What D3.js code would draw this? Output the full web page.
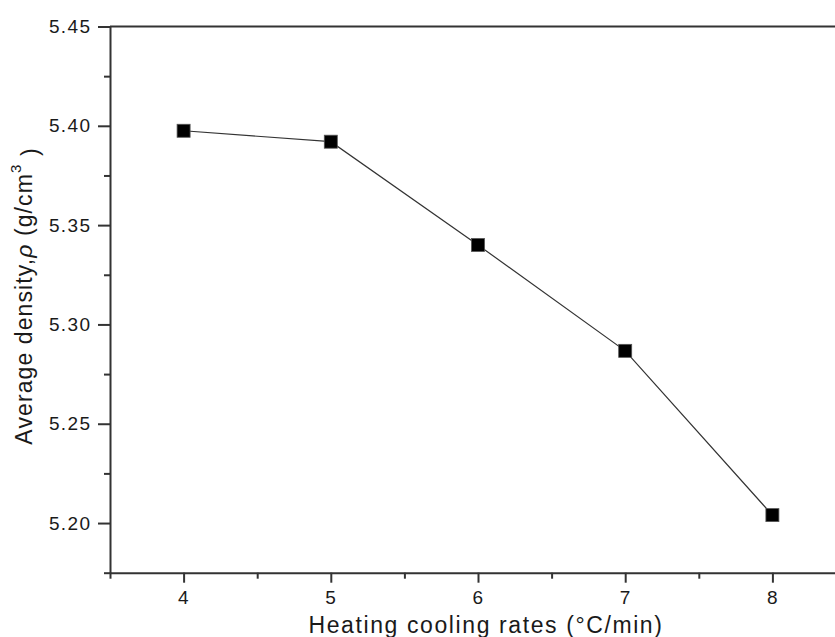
<!DOCTYPE html>
<html>
<head>
<meta charset="utf-8">
<script src="https://cdn.jsdelivr.net/npm/d3@7"></script>
<style>
  body { margin: 0; background: #fff; }
  text { font-family: "Liberation Sans", Arial, sans-serif; fill: #1a1a1a; }
</style>
</head>
<body>
<div id="chart"></div>
<script>
// data
var rates = [4, 5, 6, 7, 8];
var densities = [5.3975, 5.392, 5.340, 5.2867, 5.204];

var x_ticks = [4, 5, 6, 7, 8];
var y_ticks = [5.20, 5.25, 5.30, 5.35, 5.40, 5.45];

var svg_width = 835;
var svg_height = 637;

// plot box (right side runs past the picture edge, as in the original)
var plot_left = 110, plot_right = 846, plot_top = 26.5, plot_bottom = 572.7;

var svg = d3.select("#chart")
    .append("svg")
    .attr("width", svg_width)
    .attr("height", svg_height);

var x_scale = d3.scaleLinear().domain([3.5, 8.5]).range([plot_left, plot_right]);
var y_scale = d3.scaleLinear().domain([5.175, 5.45]).range([plot_bottom, plot_top]);

// frame: top and right lines
svg.append("line")
    .attr("x1", plot_left).attr("x2", plot_right)
    .attr("y1", plot_top).attr("y2", plot_top)
    .attr("stroke", "#333").attr("stroke-width", 2);
svg.append("line")
    .attr("x1", plot_right).attr("x2", plot_right)
    .attr("y1", plot_top).attr("y2", plot_bottom)
    .attr("stroke", "#333").attr("stroke-width", 2);

// minor ticks
var x_minor = [3.5, 4.5, 5.5, 6.5, 7.5, 8.5];
var y_minor = [5.175, 5.225, 5.275, 5.325, 5.375, 5.425];

svg.append("g")
    .attr("transform", `translate(0, ${plot_bottom})`)
    .call(d3.axisBottom(x_scale).tickValues(x_minor).tickSize(6).tickFormat(""))
    .call(g => g.select(".domain").remove())
    .selectAll("line").attr("stroke", "#333").attr("stroke-width", 2);

svg.append("g")
    .attr("transform", `translate(${plot_left}, 0)`)
    .call(d3.axisLeft(y_scale).tickValues(y_minor).tickSize(6).tickFormat(""))
    .call(g => g.select(".domain").remove())
    .selectAll("line").attr("stroke", "#333").attr("stroke-width", 2);

// major axes
var x_axis = svg.append("g")
    .attr("transform", `translate(0, ${plot_bottom})`)
    .call(d3.axisBottom(x_scale).tickValues(x_ticks).tickSize(10).tickSizeOuter(0).tickPadding(8).tickFormat(d3.format("d")));

var y_axis = svg.append("g")
    .attr("transform", `translate(${plot_left}, 0)`)
    .call(d3.axisLeft(y_scale).tickValues(y_ticks).tickSize(12).tickSizeOuter(0).tickPadding(6.5).tickFormat(d3.format(".2f")));

[x_axis, y_axis].forEach(function(ax) {
    ax.select(".domain").attr("stroke", "#333").attr("stroke-width", 2);
    ax.selectAll(".tick line").attr("stroke", "#333").attr("stroke-width", 2);
    ax.selectAll(".tick text")
        .attr("fill", "#1a1a1a")
        .style("font-family", '"Liberation Sans", Arial, sans-serif')
        .style("font-size", "19px")
        .style("letter-spacing", "1.4px");
});

// line and markers
var line = d3.line()
    .x((d, i) => x_scale(rates[i]))
    .y(d => y_scale(d));

svg.append("path")
    .datum(densities)
    .attr("d", line)
    .attr("fill", "none")
    .attr("stroke", "#333")
    .attr("stroke-width", 1.2);

svg.selectAll(".marker")
    .data(densities)
    .enter()
    .append("rect")
    .attr("class", "marker")
    .attr("x", (d, i) => x_scale(rates[i]) - 6.5)
    .attr("y", d => y_scale(d) - 6.5)
    .attr("width", 13)
    .attr("height", 13)
    .attr("fill", "#000")
    .attr("stroke", "#555")
    .attr("stroke-width", 0.8);

// axis titles
svg.append("text")
    .attr("x", 486)
    .attr("y", 633)
    .attr("text-anchor", "middle")
    .style("font-size", "23px")
    .style("letter-spacing", "1.6px")
    .text("Heating cooling rates (°C/min)");

var y_title = svg.append("text")
    .attr("transform", "translate(32, 296) rotate(-90)")
    .attr("text-anchor", "middle")
    .style("font-size", "23px")
    .style("letter-spacing", "1.1px");
y_title.append("tspan").text("Average density,");
y_title.append("tspan").style("font-style", "italic").text("ρ");
y_title.append("tspan").text(" (g/cm");
y_title.append("tspan").attr("dy", "-0.75em").style("font-size", "15px").text("3");
y_title.append("tspan").attr("dy", "0.75em").text(" )");
</script>
</body>
</html>
